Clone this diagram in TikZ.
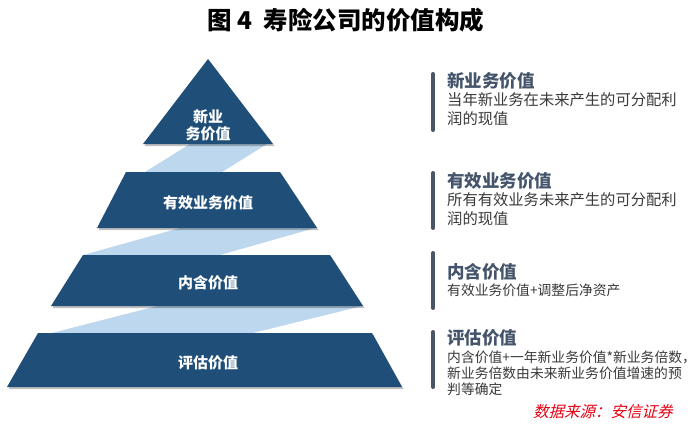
\documentclass[tikz,border=0pt]{standalone}
\usepackage{fontspec}
\setmainfont{Noto Sans CJK SC}
\newfontfamily\slantcjk{Noto Sans CJK SC}[FakeSlant=0.25]
\definecolor{dblue}{HTML}{1F4E79}
\definecolor{lblue}{HTML}{BDD7EE}
\definecolor{titlec}{HTML}{44546A}
\definecolor{descc}{HTML}{3A3A3A}
\definecolor{barc}{HTML}{4A5568}
\definecolor{srcred}{HTML}{E60012}
\begin{document}
\begin{tikzpicture}[x=1pt,y=-1pt,
  tier/.style={fill=dblue},
  ribbon/.style={fill=lblue},
  tshadow/.style={fill=black, opacity=0.25},
  tiertext/.style={text=white, font=\fontsize{15}{17}\selectfont\bfseries, align=center, inner sep=0pt},
  rtitle/.style={anchor=base west, text=titlec, font=\fontsize{17.5}{20}\selectfont\bfseries, inner sep=0pt},
  rdesc/.style={anchor=north west, text=descc, font=\fontsize{15.3}{19}\selectfont, align=left, inner sep=0pt},
  rdescs/.style={anchor=north west, text=descc, font=\fontsize{13.8}{16}\selectfont, align=left, inner sep=0pt},
  sidebar/.style={draw=barc, line width=4pt, line cap=round}]
\useasboundingbox (0,0) rectangle (695,425);
\fill[white] (0,0) rectangle (695,425);
% title
\node (title) at (346,20) {\fontsize{24.5}{28}\selectfont\bfseries 图 4\hspace{0.45em}寿险公司的价值构成};
% ribbons
\fill[ribbon] (190,144) -- (267,144) -- (222,172) -- (145,172) -- cycle;
\fill[ribbon] (180,228) -- (315,228) -- (220,255) -- (83,255) -- cycle;
\fill[ribbon] (157,306) -- (362,306) -- (253,333) -- (52,333) -- cycle;
% shadows
\begin{scope}[shift={(1.5,2)}]
\fill[tshadow] (208,59) -- (273,144) -- (143,144) -- cycle;
\fill[tshadow] (126,172) -- (280,172) -- (317,228) -- (97,228) -- cycle;
\fill[tshadow] (83,255) -- (330,255) -- (363,306) -- (51,306) -- cycle;
\fill[tshadow] (38,333) -- (372,333) -- (402,387) -- (7,387) -- cycle;
\end{scope}
% tiers
\fill[tier] (208,59) -- (273,144) -- (143,144) -- cycle;
\fill[tier] (126,172) -- (280,172) -- (317,228) -- (97,228) -- cycle;
\fill[tier] (83,255) -- (330,255) -- (363,306) -- (51,306) -- cycle;
\fill[tier] (38,333) -- (372,333) -- (402,387) -- (7,387) -- cycle;
% tier labels
\node[tiertext] (t1) at (208,125) {新业\\务价值};
\node[tiertext] (t2) at (208,203) {有效业务价值};
\node[tiertext] (t3) at (208,283) {内含价值};
\node[tiertext] (t4) at (208,363) {评估价值};
% side bars
\draw[sidebar] (433,74) -- (433,130);
\draw[sidebar] (433,173) -- (433,228);
\draw[sidebar] (433,253) -- (433,308);
\draw[sidebar] (433,332) -- (433,387);
% right texts
\node[rtitle] (h1) at (447,88) {新业务价值};
\node[rdesc] (d1) at (447,92.5) {当年新业务在未来产生的可分配利\\润的现值};
\node[rtitle] (h2) at (447,187) {有效业务价值};
\node[rdesc] (d2) at (447,192.5) {所有有效业务未来产生的可分配利\\润的现值};
\node[rtitle] (h3) at (447,278) {内含价值};
\node[rdescs] (d3) at (447,283.5) {有效业务价值+调整后净资产};
\node[rtitle] (h4) at (447,344) {评估价值};
\node[rdescs] (d4) at (447,350.5) {内含价值+一年新业务价值*新业务倍数，\\新业务倍数由未来新业务价值增速的预\\判等确定};
% source
\node[anchor=west, inner sep=0pt, text=srcred, font=\fontsize{15.5}{18}\selectfont\slantcjk] (src) at (533,412) {数据来源：安信证券};
\end{tikzpicture}
\end{document}
